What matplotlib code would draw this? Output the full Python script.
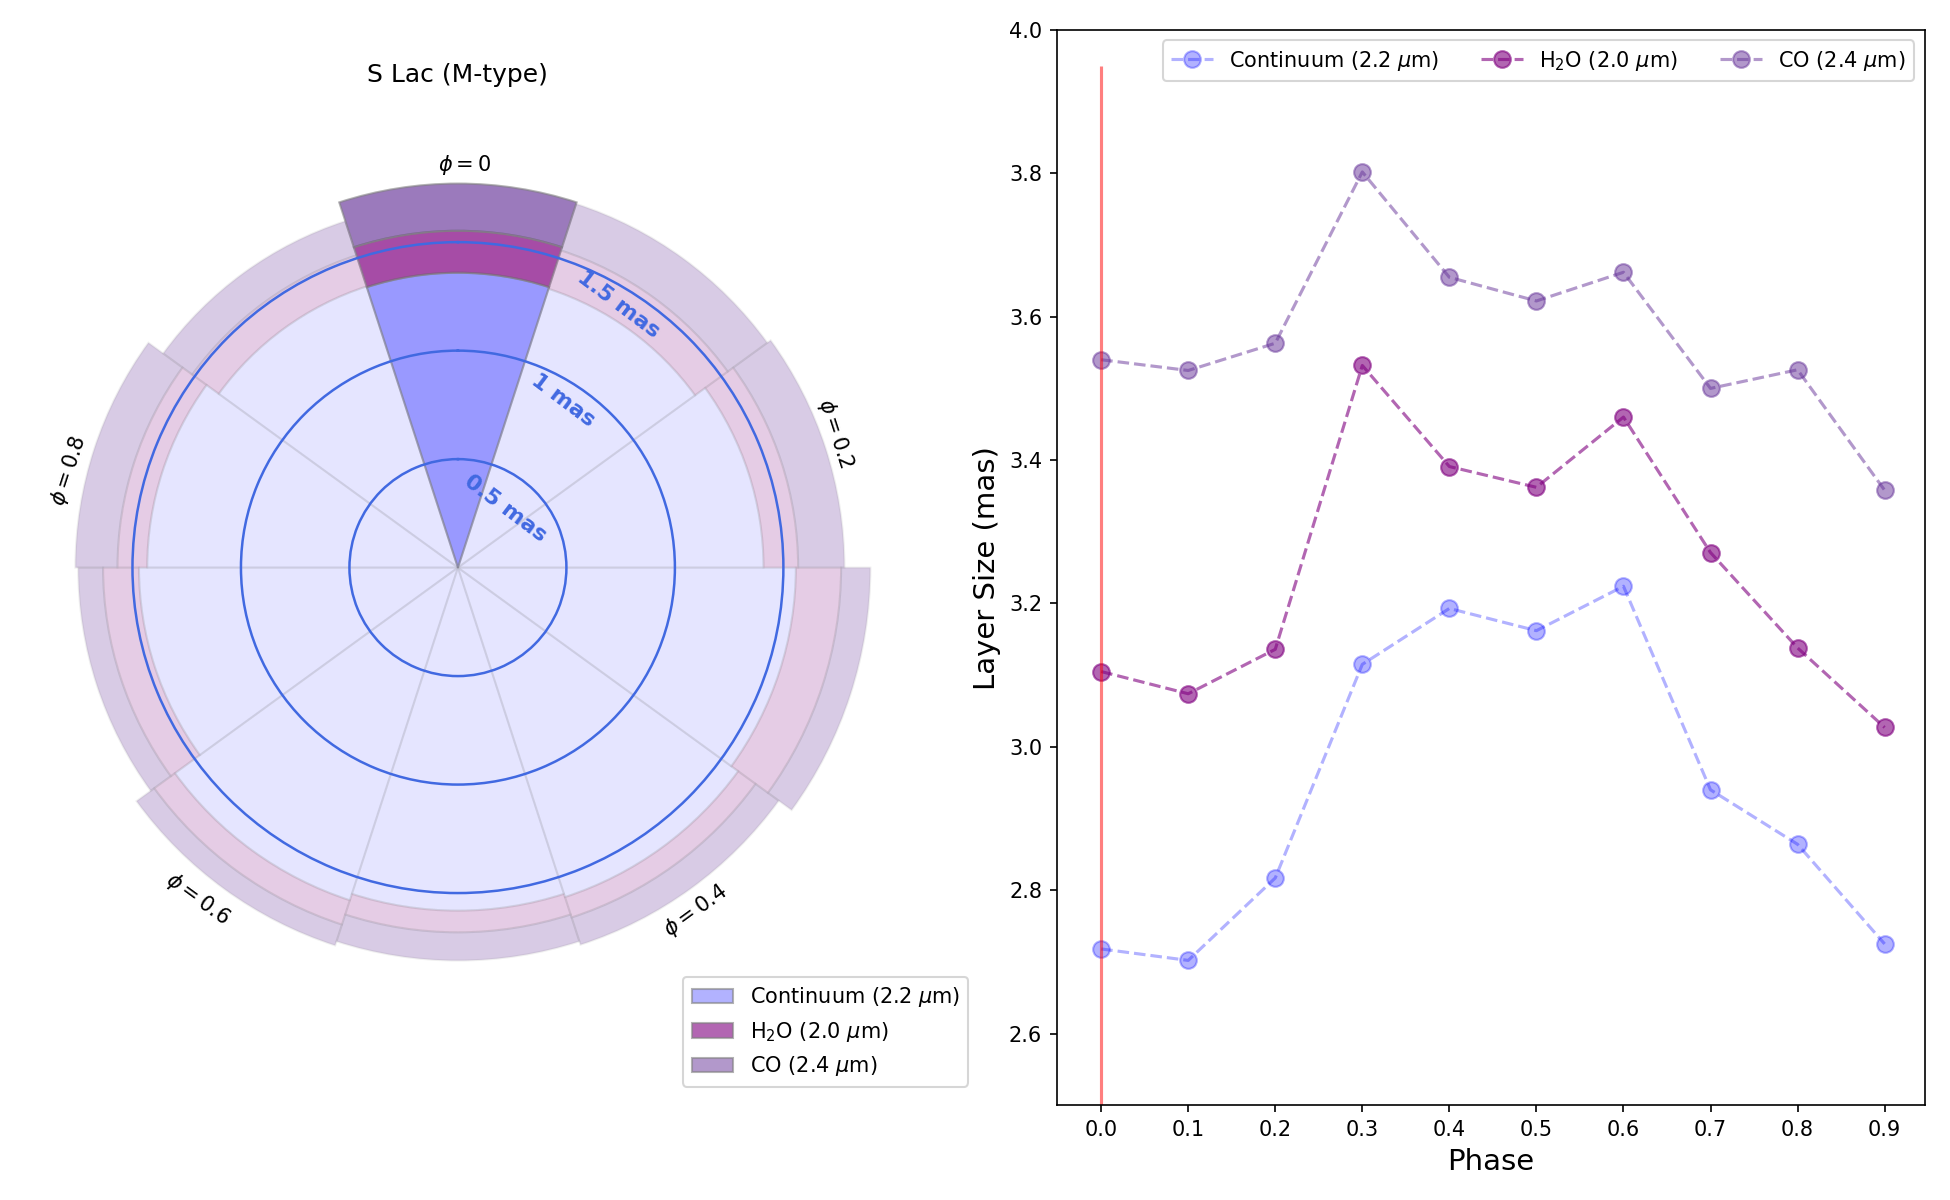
import matplotlib.pyplot as plt
import numpy as np
from matplotlib.colors import to_rgba
from matplotlib.patches import Patch

# layer sizes (mas) per pulsation phase
phase = np.array([0.0, 0.1, 0.2, 0.3, 0.4, 0.5, 0.6, 0.7, 0.8, 0.9])
cont = np.array([2.718, 2.702, 2.817, 3.115, 3.193, 3.162, 3.224, 2.940, 2.864, 2.725])
h2o = np.array([3.105, 3.074, 3.136, 3.532, 3.391, 3.362, 3.460, 3.271, 3.138, 3.027])
co = np.array([3.540, 3.525, 3.563, 3.802, 3.655, 3.622, 3.662, 3.500, 3.526, 3.358])

labels = ['Continuum (2.2 $\\mu$m)', 'H$_2$O (2.0 $\\mu$m)', 'CO (2.4 $\\mu$m)']
colors = ['blue', 'purple', 'rebeccapurple']
line_alpha = [0.3, 0.6, 0.5]
hi_alpha = [0.4, 0.7, 0.65]
lo_alpha = [0.1, 0.2, 0.25]
ring_labels = [0.5, 1, 1.5]
phase_labels = [0.0, 0.2, 0.4, 0.6, 0.8]
highlight = 0

fig = plt.figure(figsize=(13, 8), dpi=150)
ax = fig.add_subplot(1, 2, 1, projection='polar')
ax2 = fig.add_subplot(1, 2, 2)
fig.subplots_adjust(left=0.0123, right=0.987, bottom=0.079, top=0.975, wspace=0.19)

# ---- polar panel ----
theta = 2 * np.pi * phase
width = 2 * np.pi / len(phase)
radii = [cont / 2, h2o / 2, co / 2]
bottoms = [np.zeros(len(phase)), cont / 2, h2o / 2]
for k in range(3):
    for i in range(len(phase)):
        a = hi_alpha[k] if i == highlight else lo_alpha[k]
        ea = 0.6 if i == highlight else 0.12
        ax.bar(theta[i], radii[k][i] - bottoms[k][i], width=width, bottom=bottoms[k][i],
               facecolor=to_rgba(colors[k], a), edgecolor=to_rgba('gray', ea),
               linewidth=1, zorder=2)

ax.set_theta_zero_location('N')
ax.set_theta_direction(-1)
ax.set_ylim(0, 2.0)
ax.set_rgrids(ring_labels, labels=[''] * len(ring_labels))
ax.yaxis.grid(True, color='royalblue', linewidth=1.2)
ax.xaxis.grid(False)
ax.set_xticklabels([])
ax.set_axisbelow(False)
ax.spines['polar'].set_visible(False)

ring_pos = [(38.7, 0.352), (32.2, 0.909), (31.4, 1.42)]
for r, (ang, rr) in zip(ring_labels, ring_pos):
    ax.text(np.radians(ang), rr, f'{r} mas', color='royalblue', fontsize=10.5,
            fontweight='bold', rotation=-37, ha='center', va='center', zorder=5)

# phase label placement (angle in degrees clockwise from top, radius in mas)
label_pos = [(0.9, 1.854), (70.4, 1.846), (145.3, 1.925), (218.1, 1.942), (284.0, 1.846)]
for p, (ang, rr) in zip(phase_labels, label_pos):
    rot = -360 * p
    if rot < -90:
        rot += 180
    if rot < -90:
        rot += 180
    txt = '$\\phi = 0$' if p == 0 else f'$\\phi = {p:.1f}$'
    ax.text(np.radians(ang), rr, txt, rotation=rot, fontsize=10,
            ha='center', va='center')

ax.set_title('S Lac (M-type)', y=1.045)
handles = [Patch(facecolor=to_rgba(c, a), edgecolor=to_rgba('gray', 0.6), label=l)
           for c, a, l in zip(colors, line_alpha, labels)]
ax.legend(handles=handles, loc='lower right', bbox_to_anchor=(1.1, -0.11))

# ---- phase panel ----
for vals, c, a, l in zip([cont, h2o, co], colors, line_alpha, labels):
    ax2.plot(phase, vals, 'o--', color=c, alpha=a, linewidth=1.5, markersize=8, label=l)
ax2.vlines(0, 2.5, 3.95, color='red', alpha=0.5, linewidth=1.5)
ax2.set_xlim(-0.051, 0.946)
ax2.set_ylim(2.5, 4.0)
ax2.set_xticks(phase)
ax2.set_xlabel('Phase', fontsize=14)
ax2.set_ylabel('Layer Size (mas)', fontsize=14)
ax2.legend(loc='upper right', ncol=3)

fig.savefig('out.png', dpi=150)
